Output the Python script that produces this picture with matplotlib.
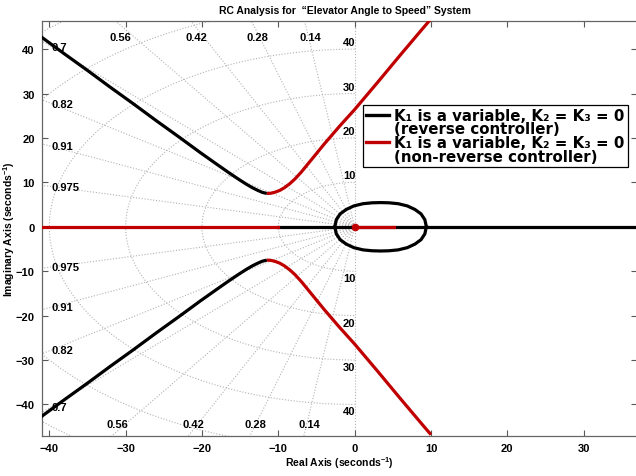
import numpy as np
import matplotlib.pyplot as plt
from matplotlib.lines import Line2D

plt.rcParams['font.family'] = 'Liberation Sans'
plt.rcParams['font.weight'] = 'bold'
plt.rcParams['mathtext.fontset'] = 'custom'
plt.rcParams['mathtext.rm'] = 'Liberation Sans:bold'
plt.rcParams['mathtext.bf'] = 'Liberation Sans:bold'

# s-plane grid
zeta_vals = [0.14, 0.28, 0.42, 0.56, 0.7, 0.82, 0.91, 0.975]
zeta_labels = ['0.14', '0.28', '0.42', '0.56', '0.7', '0.82', '0.91', '0.975']
wn_vals = [10, 20, 30, 40, 50, 60]
wn_labels = ['10', '20', '30', '40']

# reverse controller: complex branch (upper half, lower is the conjugate)
rev_re = [-41.1, -38, -35, -32, -29, -26, -23, -20.3, -18, -16.5, -15.2, -14.2,
          -13.4, -12.7, -12.1, -11.5]
rev_im = [42.8, 38.9, 35.2, 31.4, 27.7, 23.9, 20.2, 16.8, 14.0, 12.2, 10.7, 9.6,
          8.8, 8.2, 7.75, 7.5]

# non-reverse controller: complex branch (upper half)
nrev_re = [-11.5, -11, -10.4, -9.8, -9.2, -8.5, -7.8, -7, -6, -5, -4, -3, -2, 0, 3, 6, 9, 10]
nrev_im = [7.5, 7.55, 7.8, 8.2, 8.8, 9.7, 10.8, 12.3, 14.4, 16.5, 18.6, 20.6, 22.6,
           26.4, 32.5, 38.7, 44.8, 46.8]

# reverse controller: loop around the real axis (upper half)
loop_re = [-2.6, -2.4, -1.9, -1.1, -0.1, 1.1, 2.3, 3.4, 4.5, 5.7, 6.9, 7.9, 8.7, 9.2, 9.4]
loop_im = [0, 1.6, 2.9, 3.9, 4.7, 5.2, 5.4, 5.45, 5.4, 5.2, 4.7, 3.9, 2.9, 1.6, 0]

# real-axis segments
rev_real = [-10, 37]
nrev_real_a = [-41, -10]
nrev_real_b = [0, 5.2]

xmin, xmax = -41, 37
ymin, ymax = -47.1, 46.4

fig = plt.figure(figsize=(6.36, 4.77), dpi=100)
ax = fig.add_axes([0.0656, 0.0839, 0.936, 0.8706])
ax.set_xlim(xmin, xmax)
ax.set_ylim(ymin, ymax)

gkw = dict(color='0.7', lw=0.8, ls=(0, (1, 1.6)), zorder=1)

# damping rays
for z, lab in zip(zeta_vals, zeta_labels):
    th = np.arccos(z)
    r = 100
    for sgn in (1, -1):
        ax.plot([0, -r * np.cos(th)], [0, sgn * r * np.sin(th)], **gkw)
    t = np.tan(th)
    if -ymax / t > xmin:
        ax.text(-ymax / t - 0.7, 42.8, lab, ha='left', va='center', fontsize=8)
        ax.text(ymin / t - 0.7, -44.3, lab, ha='left', va='center', fontsize=8)
    else:
        ax.text(-39.7, 39.7 * t, lab, ha='left', va='center', fontsize=8)
        ax.text(-39.7, -39.7 * t, lab, ha='left', va='center', fontsize=8)
ax.plot([0, 0], [ymin, ymax], **gkw)

# natural frequency arcs (left half plane)
phi = np.linspace(np.pi / 2, 3 * np.pi / 2, 200)
for w in wn_vals:
    ax.plot(w * np.cos(phi), w * np.sin(phi), **gkw)
for lab in wn_labels:
    w = float(lab)
    ax.text(0.1, w + 1.55, lab, ha='right', va='center', fontsize=8)
    ax.text(0.1, -w - 1.55, lab, ha='right', va='center', fontsize=8)

black = 'black'
red = '#c00000'
lw = 2.3

# real axis
ax.plot(rev_real, [0, 0], color=black, lw=lw, zorder=3)
ax.plot(nrev_real_a, [0, 0], color=red, lw=lw, zorder=4)
ax.plot(nrev_real_b, [0, 0], color=red, lw=lw, zorder=4)
ax.plot([0], [0], 'o', color=red, ms=4.5, zorder=5)

# complex branches
for sgn in (1, -1):
    ax.plot(rev_re, sgn * np.array(rev_im), color=black, lw=lw, zorder=3,
            solid_capstyle='butt', solid_joinstyle='round')
    ax.plot(nrev_re, sgn * np.array(nrev_im), color=red, lw=lw, zorder=3,
            solid_capstyle='butt', solid_joinstyle='round')
    ax.plot(loop_re, sgn * np.array(loop_im), color=black, lw=lw, zorder=3,
            solid_joinstyle='round')

ax.set_xticks(np.arange(-40, 31, 10))
ax.set_yticks(np.arange(-40, 41, 10))
ax.tick_params(direction='in', top=True, right=True, length=4, width=0.8,
               labelsize=8, pad=5, colors='0.35', labelcolor='black')
for s in ax.spines.values():
    s.set_color('0.4')
    s.set_linewidth(0.9)

fig.text(0.542, 1 - 11 / 477, 'RC Analysis for  \u201cElevator Angle to Speed\u201d System',
         ha='center', va='center', fontsize=7.5)
fig.text(0.533, 1 - 463 / 477, r'Real Axis (seconds$^{\mathbf{-1}}$)',
         ha='center', va='center', fontsize=7.5)
fig.text(9 / 636, 0.52, r'Imaginary Axis (seconds$^{\mathbf{-1}}$)',
         ha='center', va='center', rotation=90, fontsize=7.5)

handles = [Line2D([], [], color=black, lw=2.4), Line2D([], [], color='none'),
           Line2D([], [], color=red, lw=2.4), Line2D([], [], color='none')]
labels = ['K\u2081 is a variable, K\u2082 = K\u2083 = 0', '(reverse controller)',
          'K\u2081 is a variable, K\u2082 = K\u2083 = 0', '(non-reverse controller)']
leg = fig.legend(handles, labels, loc='upper left', bbox_to_anchor=(363 / 636, 1 - 106 / 477),
                 prop={'family': 'DejaVu Sans', 'weight': 'bold', 'size': 10.8},
                 labelspacing=-0.1, handlelength=1.55, handletextpad=0.35, borderpad=0.2,
                 borderaxespad=0, fancybox=False, framealpha=1, edgecolor='black')
leg.get_frame().set_linewidth(0.9)

fig.savefig('out.png', dpi=100)
